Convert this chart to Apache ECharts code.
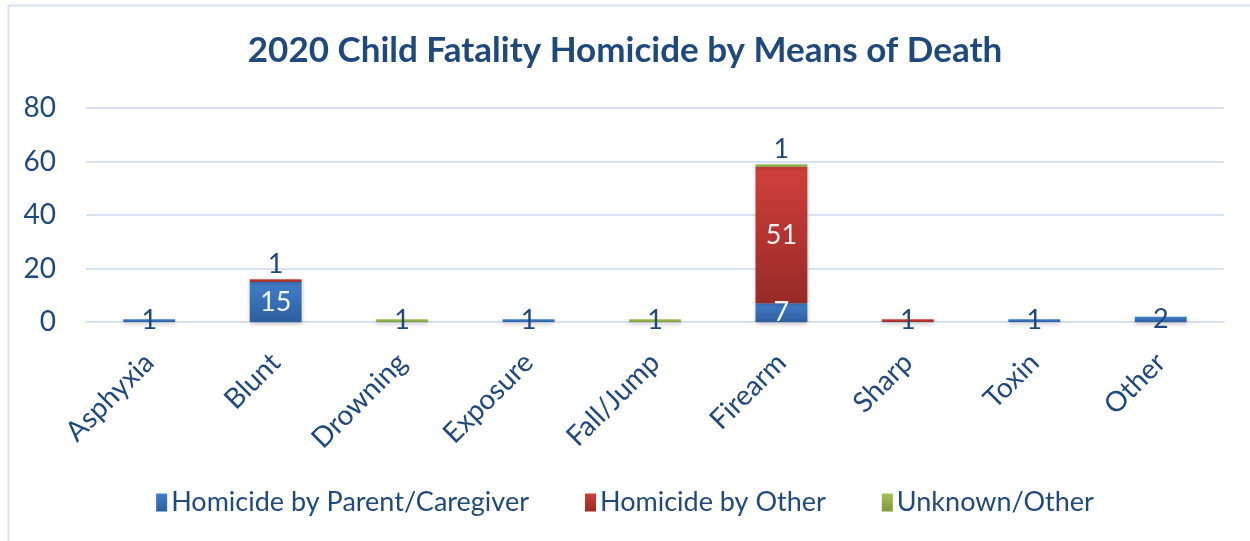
<!DOCTYPE html>
<html><head><meta charset="utf-8">
<script src="https://cdn.jsdelivr.net/npm/echarts@6/dist/echarts.min.js"></script>
<style>html,body{margin:0;padding:0;background:#fff}#c{width:1250px;height:541px}</style>
</head><body><div id="c"></div>
<script>
const categories = ['Asphyxia','Blunt','Drowning','Exposure','Fall/Jump','Firearm','Sharp','Toxin','Other'];
const seriesNames = ['Homicide by Parent/Caregiver','Homicide by Other','Unknown/Other'];
const parentCaregiver = [1,15,null,1,null,7,null,1,2];
const homicideOther   = [null,1,null,null,null,51,1,null,null];
const unknownOther    = [null,null,1,null,1,1,null,null,null];
const yTicks = [0,20,40,60,80];

const dark = '#1F497D';
const grads = [
  ['#417fcb','#2d5e9e'],
  ['#d13f3b','#972a27'],
  ['#a2c25a','#7a9a38']
];
const all = [parentCaregiver, homicideOther, unknownOther];

function items(si){
  return all[si].map((v,i)=>{
    if(v==null) return v;
    let below = 0;
    for(let k=0;k<si;k++) below += (all[k][i]||0);
    const onTop = below >= 10 && v < 5;
    return {value:v, label:{position: onTop ? 'top':'inside', distance: 1, color: (v>=5) ? '#f2f2f2' : dark}};
  });
}

const chart = echarts.init(document.getElementById('c'));
chart.setOption({
  animation:false,
  textStyle:{fontFamily:'Lato'},
  title:{text:'2020 Child Fatality Homicide by Means of Death', left:'center', top:28,
    textStyle:{fontFamily:'Lato', fontWeight:'bold', fontSize:35, color:dark}},
  graphic:[
    {type:'line', shape:{x1:8,y1:5.5,x2:1250,y2:5.5}, style:{stroke:'#d6e2f1', lineWidth:2}},
    {type:'line', shape:{x1:8.5,y1:5,x2:8.5,y2:541}, style:{stroke:'#d6e2f1', lineWidth:2}}
  ],
  legend:{bottom:20, left:'center', itemGap:56, itemWidth:11, itemHeight:18, icon:'rect',
    textStyle:{fontSize:27, color:dark, fontFamily:'Lato', padding:[0,0,0,-1]},
    data:seriesNames},
  grid:{left:86, right:26, top:108, bottom:219},
  xAxis:{type:'category', data:categories,
    axisLine:{lineStyle:{color:'#d6e2f1', width:2}}, axisTick:{show:false},
    axisLabel:{rotate:45, fontSize:28, color:dark, margin:36, interval:0, fontFamily:'Lato'}},
  yAxis:{type:'value', min:yTicks[0], max:yTicks[yTicks.length-1], interval:20,
    axisLine:{show:false}, axisTick:{show:false},
    splitLine:{lineStyle:{color:'#d6e2f1', width:2}},
    axisLabel:{fontSize:28, color:dark, margin:30, fontFamily:'Lato'}},
  series: seriesNames.map((n,si)=>({
    name:n, type:'bar', stack:'s', barWidth:'41%',
    data: items(si),
    itemStyle:{color:{type:'linear',x:0,y:0,x2:0,y2:1,colorStops:[{offset:0,color:grads[si][0]},{offset:1,color:grads[si][1]}]},
      shadowColor:'rgba(0,0,0,0.25)', shadowBlur:4, shadowOffsetY:2},
    label:{show:true, fontSize:27, fontFamily:'Lato', formatter:p=>p.value}
  }))
});
</script></body></html>
